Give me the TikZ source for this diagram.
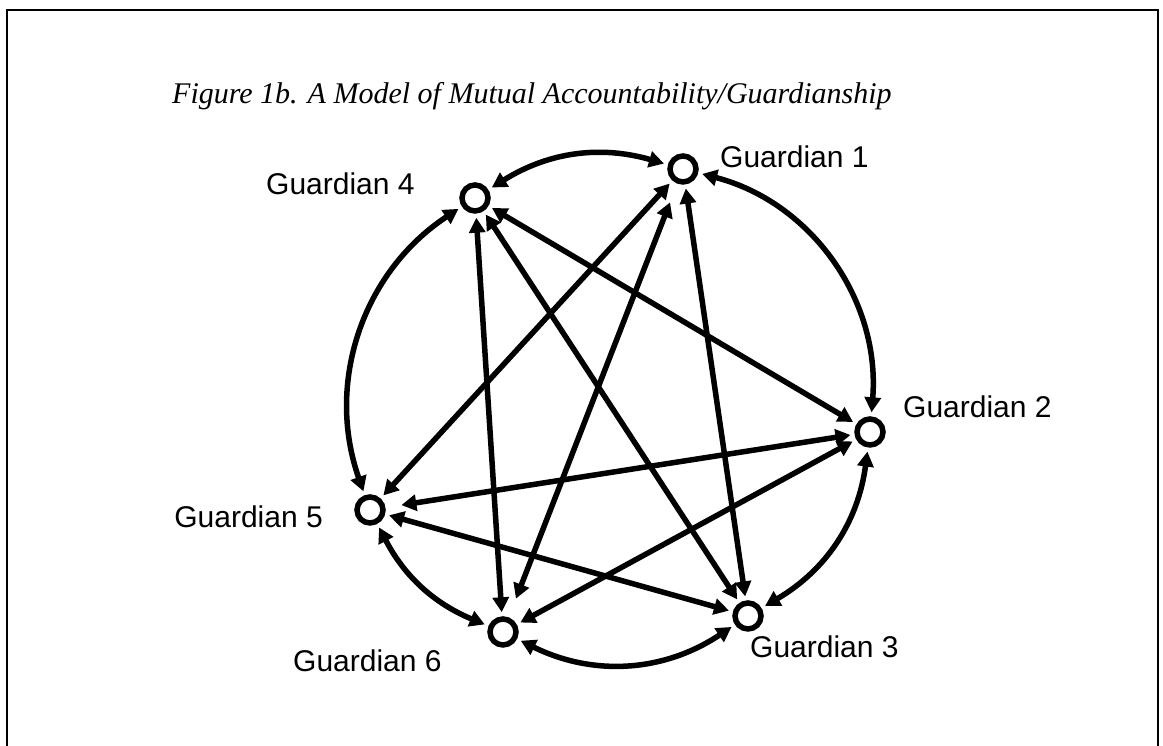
\documentclass[tikz,border=0pt]{standalone}
\usepackage{fontspec}
\setmainfont{Liberation Serif}
\newfontfamily\labfont{Liberation Sans}
\usetikzlibrary{arrows.meta}
\begin{document}
\begin{tikzpicture}[x=1pt,y=1pt,
  gnode/.style={circle,draw=black,line width=5.5pt,fill=white,minimum size=26pt,inner sep=0pt},
  biarrow/.style={line width=5.5pt,{Triangle[length=15pt,width=16pt]}-{Triangle[length=15pt,width=16pt]},shorten <=4pt,shorten >=4pt},
  lab/.style={font=\labfont\fontsize{30}{36}\selectfont,inner sep=0pt}]
\useasboundingbox (0,0) rectangle (1163,746);
\draw[line width=2pt] (7,-10) -- (7,736) -- (1158,736) -- (1158,-10);
\node[anchor=base west,inner sep=0pt,font=\fontsize{30}{36}\selectfont\itshape] (title) at (172,642) {Figure 1b. A Model of Mutual Accountability/Guardianship};
\node[gnode] (G1) at (683,577) {};
\node[gnode] (G4) at (475,548) {};
\node[gnode] (G2) at (870,314) {};
\node[gnode] (G5) at (370,236) {};
\node[gnode] (G6) at (503,114) {};
\node[gnode] (G3) at (748,130) {};
\node[lab,anchor=base west] (L1) at (720,578) {Guardian 1};
\node[lab,anchor=base west] (L4) at (266,551) {Guardian 4};
\node[lab,anchor=base west] (L2) at (903,328) {Guardian 2};
\node[lab,anchor=base east] (L5) at (323,218) {Guardian 5};
\node[lab,anchor=base west] (L6) at (293,74) {Guardian 6};
\node[lab,anchor=base west] (L3) at (750,88) {Guardian 3};
% outer arcs
\draw[biarrow] (G2) to[bend right=40] (G1);
\draw[biarrow] (G1) to[bend right=24] (G4);
\draw[biarrow] (G4) to[bend right=38] (G5);
\draw[biarrow] (G5) to[bend right=20] (G6);
\draw[biarrow] (G6) to[bend right=30] (G3);
\draw[biarrow] (G3) to[bend right=26] (G2);
% inner lines
\draw[biarrow] (G4) -- (G2);
\draw[biarrow] (G4) -- (G6);
\draw[biarrow] (G4) -- (G3);
\draw[biarrow] (G1) -- (G5);
\draw[biarrow,shorten <=20pt,shorten >=20pt] (G1) -- (G6);
\draw[biarrow] (G1) -- (G3);
\draw[biarrow,shorten >=16pt] (G2) -- (G5);
\draw[biarrow] (G2) -- (G6);
\draw[biarrow] (G5) -- (G3);
\end{tikzpicture}
\end{document}
